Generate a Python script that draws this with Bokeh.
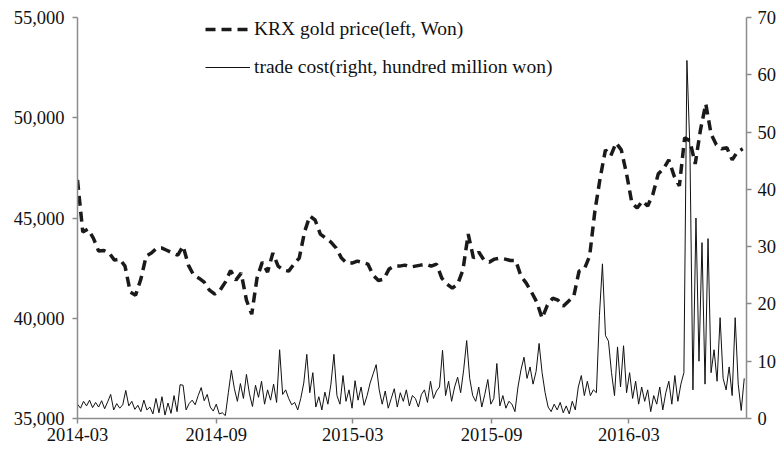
import pandas as pd
from bokeh.plotting import figure
from bokeh.models import (Range1d, LinearAxis, FixedTicker, NumeralTickFormatter,
                          DatetimeTickFormatter, Legend, LegendItem)
from bokeh.embed import file_html
from bokeh.resources import INLINE

# ---------------- data ----------------
start_date = "2014-03-01"

gold_price = [
    46900, 44300, 44450, 44000, 43350, 43380, 43250, 42900, 42950, 42600,
    41300, 41150, 41950, 43100, 43250, 43500, 43500, 43380, 43250, 43150,
    43600, 42650, 42150, 42000, 41800, 41400, 41200, 41400, 41800, 42380,
    41900, 42250, 40900, 40200, 42000, 42800, 42300, 43250, 42600, 42400,
    42350, 42700, 43000, 44300, 45100, 44900, 44200, 44000, 43800, 43500,
    43000, 42750, 42750, 42850, 42780, 42700, 42150, 41880, 41950, 42450,
    42600, 42600, 42650, 42550, 42600, 42650, 42700, 42600, 42700, 42000,
    41700, 41500, 41700, 42400, 44200, 43000, 43300, 42900, 42800, 42950,
    43000, 42950, 42880, 42880, 42100, 41750, 41300, 40800, 40000, 40650,
    41000, 40900, 40600, 40850, 41100, 42350, 42450, 43100, 45350, 47000,
    48400, 48100, 48750, 48400, 47200, 45750, 45500, 45850, 45600, 46200,
    47200, 47450, 47900, 47100, 46600, 49000, 48850, 47700, 49400, 50700,
    49200, 48650, 48450, 48500, 47900, 48300, 48450,
]

trade_cost = [
    2.5, 1.8, 3.0, 2.2, 3.2, 1.9, 2.8, 2.0, 3.1, 1.7, 2.9, 4.2, 1.5, 2.6, 1.8, 2.4,
    4.9, 2.2, 3.0, 1.6, 2.3, 1.2, 3.2, 1.5, 2.0, 0.8, 3.5, 1.0, 3.8, 0.6, 2.7, 0.9,
    4.0, 1.2, 5.9, 5.8, 1.5, 2.6, 3.2, 2.4, 4.0, 5.4, 3.1, 4.2, 2.0, 1.3, 2.5, 0.8,
    1.0, 0.5, 4.5, 8.4, 5.2, 3.0, 6.1, 3.5, 7.7, 4.3, 2.1, 5.8, 3.7, 6.5, 2.5, 5.0,
    3.2, 6.0, 2.8, 12.0, 4.2, 5.0, 3.5, 2.4, 2.8, 1.5, 3.5, 6.2, 11.2, 4.5, 8.0, 2.0,
    3.8, 1.5, 4.6, 2.5, 6.0, 11.2, 4.0, 2.5, 7.5, 3.0, 5.0, 1.8, 6.6, 3.2, 5.5, 2.3,
    4.0, 6.2, 7.8, 9.4, 5.0, 2.5, 4.8, 1.8, 3.5, 5.2, 2.0, 4.5, 3.0, 5.0, 2.2, 4.0,
    3.5, 2.0, 4.2, 5.0, 2.8, 6.5, 3.5, 4.8, 5.5, 11.9, 4.0, 6.5, 3.0, 5.5, 7.2, 4.5,
    8.5, 13.6, 7.0, 4.0, 3.0, 5.5, 2.0, 4.2, 6.8, 2.5, 3.5, 9.6, 2.2, 4.0, 1.8, 3.0,
    2.5, 1.2, 5.5, 8.5, 10.7, 7.0, 9.0, 6.0, 8.2, 13.1, 8.0, 4.5, 2.0, 1.2, 2.5, 1.5,
    2.8, 1.0, 2.2, 0.8, 3.0, 1.5, 5.5, 7.5, 4.0, 6.5, 4.0, 5.0, 4.5, 18.0, 27.0, 14.5,
    13.5, 8.0, 4.0, 12.5, 5.5, 12.7, 4.5, 8.0, 3.5, 6.5, 2.5, 5.5, 3.0, 5.0, 1.2, 4.0,
    2.5, 5.5, 1.5, 4.5, 6.5, 2.5, 7.5, 3.0, 6.0, 8.0, 62.5, 47.0, 5.0, 35.0, 10.0, 30.7,
    6.0, 31.4, 8.0, 12.0, 6.5, 17.6, 7.0, 5.0, 9.0, 4.0, 17.6, 6.0, 1.4, 7.0,
]

x_tick_dates = ["2014-03-01", "2014-09-01", "2015-03-01", "2015-09-01", "2016-03-01"]
left_ticks = [35000, 40000, 45000, 50000, 55000]
right_ticks = [0, 10, 20, 30, 40, 50, 60, 70]

gold_dates = pd.date_range(start_date, periods=len(gold_price), freq="7D")
cost_dates = pd.date_range(start_date, periods=len(trade_cost), freq="4D")

# ---------------- figure ----------------
FONT = "Liberation Serif"
x_start = pd.Timestamp(start_date)
x_end = pd.Timestamp("2016-08-04")

p = figure(width=780, height=443, x_axis_type="datetime",
           x_range=Range1d(x_start, x_end), y_range=Range1d(35000, 55000),
           output_backend="svg", toolbar_location=None,
           min_border_left=77, min_border_right=34, min_border_top=17,
           min_border_bottom=25)
p.outline_line_color = None
p.xgrid.grid_line_color = None
p.ygrid.grid_line_color = None
p.background_fill_color = "white"

p.extra_y_ranges = {"cost": Range1d(0, 70)}

g = p.line(gold_dates, gold_price, line_color="#1a1a1a", line_width=3.5,
           line_dash="10 6")
c = p.line(cost_dates, trade_cost, line_color="#111111", line_width=1,
           y_range_name="cost")

AX = "#8c8c8c"

def style(ax):
    ax.axis_line_color = AX
    ax.axis_line_width = 1.5
    ax.major_tick_line_color = AX
    ax.major_tick_line_width = 1.5
    ax.major_tick_out = 5
    ax.major_tick_in = 0
    ax.minor_tick_line_color = None
    ax.major_label_text_font = FONT
    ax.major_label_text_font_size = "18.5px"
    ax.major_label_text_color = "#111111"

xa = p.xaxis[0]
style(xa)
xa.ticker = FixedTicker(ticks=[pd.Timestamp(d).value // 10**6 for d in x_tick_dates])
xa.formatter = DatetimeTickFormatter(days="%Y-%m", months="%Y-%m", years="%Y-%m")
xa.major_label_standoff = 4

ya = p.yaxis[0]
style(ya)
ya.ticker = FixedTicker(ticks=left_ticks)
ya.formatter = NumeralTickFormatter(format="0,0")
ya.major_label_standoff = 8

ra = LinearAxis(y_range_name="cost")
style(ra)
ra.ticker = FixedTicker(ticks=right_ticks)
ra.major_label_standoff = 6
p.add_layout(ra, "right")

legend = Legend(items=[LegendItem(label="KRX gold price(left, Won)", renderers=[g]),
                       LegendItem(label="trade cost(right, hundred million won)", renderers=[c])],
                location=(128, 340), orientation="vertical",
                label_text_font=FONT, label_text_font_size="19.5px",
                label_text_color="#111111", glyph_width=45, glyph_height=22,
                label_height=22, label_standoff=4, spacing=16, padding=0, margin=0,
                border_line_color=None, background_fill_alpha=0)
p.add_layout(legend, "center")

open("out.html", "w").write(file_html(p, INLINE))
